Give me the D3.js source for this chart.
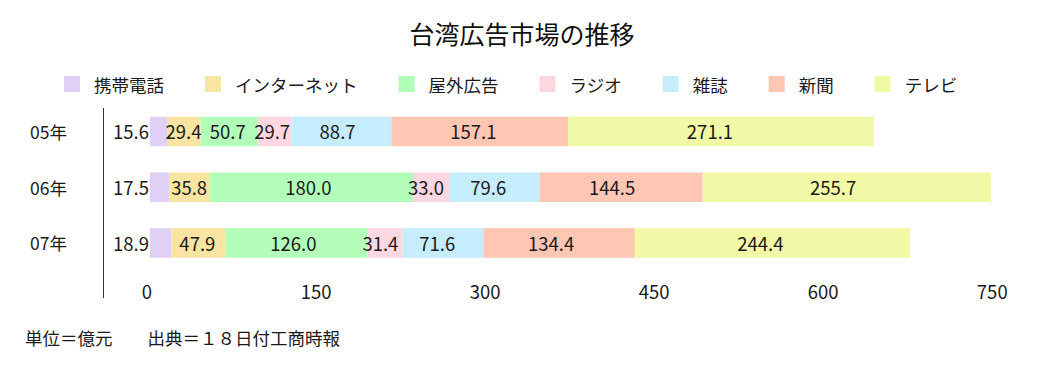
<!DOCTYPE html>
<html><head><meta charset="utf-8">
<script src="https://cdn.jsdelivr.net/npm/d3@7"></script>
<style>
html,body{margin:0;padding:0;background:#fff;}
svg{display:block;font-family:"Noto Sans CJK JP","Noto Sans",sans-serif;}
</style></head>
<body>
<svg id="chart" width="1040" height="367"></svg>
<script>
const title = "台湾広告市場の推移";
const categories = ["05年", "06年", "07年"];
const seriesNames = ["携帯電話", "インターネット", "屋外広告", "ラジオ", "雑誌", "新聞", "テレビ"];
const mobile   = [15.6, 17.5, 18.9];
const internet = [29.4, 35.8, 47.9];
const outdoor  = [50.7, 180.0, 126.0];
const radio    = [29.7, 33.0, 31.4];
const magazine = [88.7, 79.6, 71.6];
const newspaper= [157.1, 144.5, 134.4];
const tv       = [271.1, 255.7, 244.4];
const tickValues = [0, 150, 300, 450, 600, 750];
const footnote = "単位＝億元　　出典＝１８日付工商時報";
const colors = ["#e1d0f5", "#fae4a1", "#b2fdb8", "#ffd7e0", "#c6edfd", "#ffc6b4", "#f1f9a6"];

const seriesValues = [mobile, internet, outdoor, radio, magazine, newspaper, tv];
const rows = categories.map((c, i) => {
  const r = {cat: c};
  seriesNames.forEach((s, j) => r[s] = seriesValues[j][i]);
  return r;
});

const svg = d3.select("#chart");
const x = d3.scaleLinear().domain([0, 750]).range([150, 150 + 750 * 1.127]);
const xLabel = d3.scaleLinear().domain([0, 750]).range([150, 150 + 750 * 1.105]);
const y = d3.scaleBand().domain(categories).range([103.6, 270.85]).paddingInner(0.47).paddingOuter(0.235);
const color = d3.scaleOrdinal().domain(seriesNames).range(colors);

// title
svg.append("text").attr("x", 522).attr("y", 33).attr("text-anchor", "middle")
  .attr("dominant-baseline", "central").attr("font-size", 25).attr("fill", "#111").text(title);

// legend
let lx = 64;
seriesNames.forEach((s) => {
  const g = svg.append("g");
  g.append("rect").attr("x", lx).attr("y", 76).attr("width", 16).attr("height", 16).attr("fill", color(s));
  const t = g.append("text").attr("x", lx + 30).attr("y", 84).attr("dominant-baseline", "central")
    .attr("font-size", 17.5).attr("fill", "#1a1a1a").text(s);
  lx = lx + 30 + t.node().getComputedTextLength() + 41;
});

// bars
const stack = d3.stack().keys(seriesNames)(rows);
const layers = svg.append("g").selectAll("g").data(stack).join("g").attr("fill", d => color(d.key));
layers.selectAll("rect").data(d => d).join("rect")
  .attr("x", d => x(d[0])).attr("y", d => y(d.data.cat))
  .attr("width", d => x(d[1]) - x(d[0])).attr("height", y.bandwidth());

// value labels
stack.forEach((layer, li) => {
  svg.append("g").selectAll("text").data(layer).join("text")
    .attr("x", d => li === 0 ? x(d[0]) - 1 : xLabel((d[0] + d[1]) / 2))
    .attr("y", d => y(d.data.cat) + y.bandwidth() / 2)
    .attr("text-anchor", li === 0 ? "end" : "middle")
    .attr("dominant-baseline", "central")
    .attr("font-size", 18.5).attr("fill", "#1a1a1a")
    .text(d => (d[1] - d[0]).toFixed(1));
});

// category labels
svg.append("g").selectAll("text").data(categories).join("text")
  .attr("x", 67).attr("y", d => y(d) + y.bandwidth() / 2)
  .attr("text-anchor", "end").attr("dominant-baseline", "central")
  .attr("font-size", 17.5).attr("fill", "#1a1a1a").text(d => d);

// vertical axis line
svg.append("line").attr("x1", 103.5).attr("x2", 103.5).attr("y1", 108).attr("y2", 298)
  .attr("stroke", "#333").attr("stroke-width", 1);

// x axis tick labels
const xAxis = d3.axisBottom(x).tickValues(tickValues).tickSize(0).tickPadding(0).tickFormat(d3.format("d"));
const ax = svg.append("g").attr("transform", "translate(-3.5,286)").call(xAxis);
ax.select(".domain").remove();
ax.selectAll("text").attr("font-size", 18.5).attr("fill", "#1a1a1a")
  .attr("font-family", "\"Noto Sans CJK JP\",\"Noto Sans\",sans-serif");

// footnote
svg.append("text").attr("x", 25).attr("y", 337).attr("dominant-baseline", "central")
  .attr("font-size", 17.5).attr("fill", "#1a1a1a").text(footnote);
</script>
</body></html>
